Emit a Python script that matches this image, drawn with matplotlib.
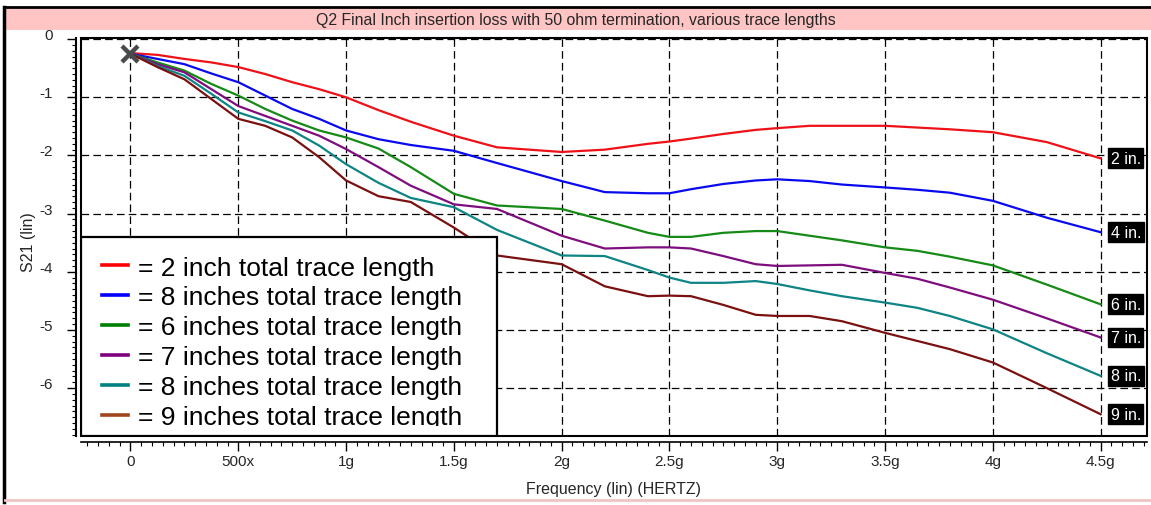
import matplotlib
matplotlib.use("Agg")
import matplotlib.pyplot as plt
from matplotlib.patches import Rectangle
from matplotlib.lines import Line2D
from matplotlib.ticker import MultipleLocator, FixedLocator, FixedFormatter
from matplotlib.font_manager import FontProperties
from matplotlib.transforms import Bbox, TransformedBbox

# ---------------- data ----------------
freq_ghz = [0, 0.125, 0.25, 0.375, 0.5, 0.625, 0.75, 0.875, 1.0, 1.15, 1.3, 1.5,
            1.7, 2.0, 2.2, 2.4, 2.5, 2.6, 2.75, 2.9, 3.0, 3.15, 3.3, 3.5, 3.65,
            3.8, 4.0, 4.25, 4.5]

s21_2in = [-0.24, -0.27, -0.34, -0.40, -0.48, -0.60, -0.74, -0.86, -1.00, -1.22,
           -1.42, -1.66, -1.86, -1.94, -1.90, -1.80, -1.76, -1.71, -1.63, -1.56,
           -1.53, -1.49, -1.49, -1.49, -1.52, -1.55, -1.60, -1.77, -2.05]
s21_4in = [-0.25, -0.34, -0.43, -0.59, -0.74, -0.97, -1.20, -1.37, -1.57, -1.72,
           -1.82, -1.92, -2.13, -2.44, -2.63, -2.65, -2.65, -2.58, -2.49, -2.43,
           -2.41, -2.44, -2.50, -2.55, -2.59, -2.64, -2.78, -3.07, -3.32]
s21_6in = [-0.25, -0.40, -0.54, -0.77, -0.97, -1.20, -1.40, -1.57, -1.69, -1.88,
           -2.20, -2.66, -2.86, -2.92, -3.12, -3.33, -3.40, -3.40, -3.33, -3.30,
           -3.30, -3.38, -3.46, -3.58, -3.64, -3.74, -3.89, -4.22, -4.56]
s21_7in = [-0.25, -0.43, -0.57, -0.86, -1.15, -1.32, -1.49, -1.66, -1.89, -2.20,
           -2.52, -2.84, -2.92, -3.38, -3.60, -3.58, -3.58, -3.60, -3.73, -3.87,
           -3.90, -3.89, -3.88, -4.02, -4.12, -4.27, -4.48, -4.80, -5.13]
s21_8in = [-0.25, -0.46, -0.63, -0.94, -1.26, -1.41, -1.57, -1.83, -2.15, -2.47,
           -2.73, -2.89, -3.28, -3.72, -3.73, -3.97, -4.10, -4.19, -4.19, -4.16,
           -4.21, -4.32, -4.42, -4.53, -4.62, -4.76, -4.99, -5.40, -5.79]
s21_9in = [-0.25, -0.48, -0.69, -1.03, -1.37, -1.49, -1.69, -2.03, -2.43, -2.70,
           -2.80, -3.24, -3.72, -3.87, -4.25, -4.42, -4.41, -4.42, -4.57, -4.74,
           -4.76, -4.76, -4.85, -5.05, -5.19, -5.33, -5.56, -6.00, -6.45]

series = [s21_2in, s21_4in, s21_6in, s21_7in, s21_8in, s21_9in]
line_colors = ["#EE1218", "#0A0AF0", "#168A16", "#7E0E7E", "#0E8484", "#7A1010"]
legend_colors = ["#FF0000", "#0000FF", "#008000", "#800080", "#008080", "#A0461E"]
legend_labels = ["= 2 inch total trace length",
                 "= 8 inches total trace length",
                 "= 6 inches total trace length",
                 "= 7 inches total trace length",
                 "= 8 inches total trace length",
                 "= 9 inches total trace length"]
end_labels = ["2 in.", "4 in.", "6 in.", "7 in.", "8 in.", "9 in."]

x_ticks = [0, 0.5, 1.0, 1.5, 2.0, 2.5, 3.0, 3.5, 4.0, 4.5]
x_ticklabels = ["0", "500x", "1g", "1.5g", "2g", "2.5g", "3g", "3.5g", "4g", "4.5g"]
y_ticks = [0, -1, -2, -3, -4, -5, -6]
y_ticklabels = ["0", "-1", "-2", "-3", "-4", "-5", "-6"]

title = "Q2 Final Inch insertion loss with 50 ohm termination, various trace lengths"
xlabel = "Frequency (lin) (HERTZ)"
ylabel = "S21 (lin)"

# ---------------- figure ----------------
plt.rcParams["lines.scale_dashes"] = False
W, H = 1151, 506
fig = plt.figure(figsize=(W / 100, H / 100), dpi=100)
fig.patch.set_facecolor("white")

sans = ["Liberation Sans", "DejaVu Sans"]
txt_col = "#262626"

ax = fig.add_axes([81 / W, 69 / H, 1066 / W, 398 / H])
ax.set_xlim(-0.2296, 4.715)
ax.set_ylim(-6.824, 0.02)

for vals, c in zip(series, line_colors):
    ax.plot(freq_ghz, vals, color=c, lw=1.6, zorder=3, solid_joinstyle="round")

# start marker
ax.plot(freq_ghz[0], s21_4in[0], marker="x", ms=12, mew=3.2, color="#4A4A4A",
        zorder=4, linestyle="none")

# end labels
for vals, lab in zip(series, end_labels):
    ax.annotate(lab, xy=(freq_ghz[-1], vals[-1]), xytext=(10, 0),
                textcoords="offset pixels", ha="left", va="center",
                color="white", fontsize=11.5, family=sans, zorder=6,
                bbox=dict(boxstyle="square,pad=0.15", fc="black", ec="black"))

# grid
ax.xaxis.set_major_locator(FixedLocator(x_ticks))
ax.xaxis.set_major_formatter(FixedFormatter(x_ticklabels))
ax.yaxis.set_major_locator(FixedLocator(y_ticks))
ax.yaxis.set_major_formatter(FixedFormatter(y_ticklabels))
ax.xaxis.set_minor_locator(MultipleLocator(0.05))
ax.yaxis.set_minor_locator(MultipleLocator(0.1))
ax.grid(True, which="major", color="black", lw=0.9, ls=(0, (5.5, 3)))
ax.set_axisbelow(True)

# spines / ticks
for s in ["top", "right"]:
    ax.spines[s].set_visible(False)
ax.spines["left"].set_position(("outward", 3.6))
ax.spines["bottom"].set_position(("outward", 4.5))
ax.spines["left"].set_linewidth(1.5)
ax.spines["bottom"].set_linewidth(1.2)
ax.tick_params(axis="both", which="major", direction="out", length=6.5, width=1,
               color="black")
ax.tick_params(axis="both", which="minor", direction="out", length=2.8, width=0.8,
               color="black")
ax.tick_params(axis="y", which="major", pad=10)
ax.tick_params(axis="x", which="major", pad=2)
for lab in ax.get_xticklabels() + ax.get_yticklabels():
    lab.set_family(sans)
    lab.set_fontsize(11)
    lab.set_color(txt_col)
for lab in ax.get_yticklabels():
    lab.set_verticalalignment("baseline")

ax.set_xlabel(xlabel, family=sans, fontsize=11.5, color=txt_col, labelpad=9.5)
ax.set_ylabel(ylabel, family=sans, fontsize=11.5, color=txt_col)
ax.yaxis.set_label_coords((36 - 81) / 1066, 0.49)

# plot frame
ax.add_patch(Rectangle((0, 0), 1, 1, transform=ax.transAxes, fill=False,
                       ec="black", lw=1.5, clip_on=False, zorder=7))

# legend box
ax.add_patch(Rectangle((0, 0), 0.390, 0.5, transform=ax.transAxes, fc="white",
                       ec="black", lw=1.6, zorder=8))
handles = [Line2D([], [], color=c, lw=2.6) for c in legend_colors]
leg = ax.legend(handles, legend_labels, loc="upper left",
                bbox_to_anchor=(0.0197, 0.4535), frameon=False, borderpad=0,
                borderaxespad=0, handlelength=1.0, handletextpad=0.35,
                labelspacing=0.227, prop=FontProperties(family="Liberation Sans", size=19))
leg.set_zorder(9)
clip_bb = TransformedBbox(Bbox([[0, (437 - 426.5) / 398], [1, 1]]), ax.transAxes)
for t in leg.get_texts():
    t.set_clip_box(clip_bb)
    t.set_clip_on(True)

# title band and borders
fig.patches.append(Rectangle((5 / W, 1 - 31 / H), 1 - 5 / W, 22 / H,
                             transform=fig.transFigure, fc="#FFC4C4", ec="none",
                             zorder=10))
fig.lines.append(Line2D([4 / W, 1], [1 - 8 / H, 1 - 8 / H], transform=fig.transFigure,
                        color="black", lw=2, zorder=11))
fig.lines.append(Line2D([4 / W, 4 / W], [1 - 8 / H, 1 - 503 / H], transform=fig.transFigure,
                        color="black", lw=2.5, zorder=11))
fig.lines.append(Line2D([5 / W, 1], [1 - 501 / H, 1 - 501 / H], transform=fig.transFigure,
                        color="#F0C4C4", lw=2, zorder=11))
fig.text(576 / W, 1 - 20 / H, title, ha="center", va="center", family=sans,
         fontsize=11.4, color=txt_col, zorder=12)

fig.savefig("out.png", dpi=100)
